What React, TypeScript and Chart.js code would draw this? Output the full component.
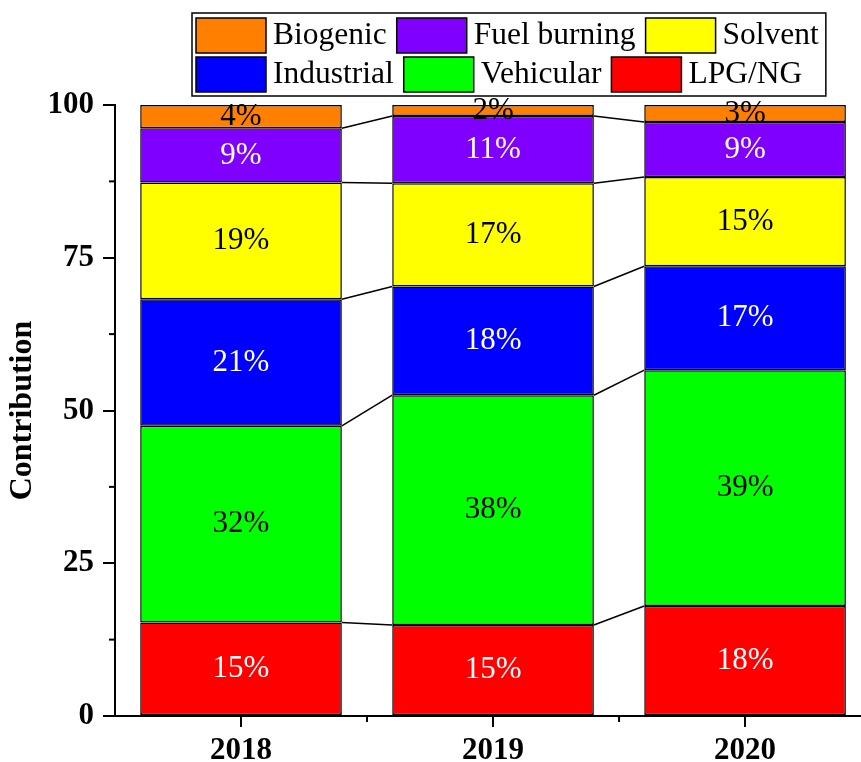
import React, { useEffect, useRef } from "react";
import { Chart, registerables } from "chart.js";

Chart.register(...registerables);

// ---------- data ----------
const years = ["2018", "2019", "2020"];
const sources = ["LPG/NG", "Vehicular", "Industrial", "Solvent", "Fuel burning", "Biogenic"];
const lpgNg = [15.3, 14.9, 18.0];
const vehicular = [32.2, 37.6, 38.6];
const industrial = [20.7, 17.8, 17.0];
const solvent = [19.1, 16.9, 14.6];
const fuelBurning = [8.9, 11.0, 9.0];
const biogenic = [3.8, 1.8, 2.8];
const yTicks = [0, 25, 50, 75, 100];
const yMinorTicks = [12.5, 37.5, 62.5, 87.5];
const xMinorTicks = [0.5, 1.5];

const seriesValues = [lpgNg, vehicular, industrial, solvent, fuelBurning, biogenic];
const fillColors = ["#FF0000", "#00FF00", "#0000FF", "#FFFF00", "#8000FF", "#FF8000"];
const labelColors = ["#FFFFFF", "#000000", "#FFFFFF", "#000000", "#FFFFFF", "#000000"];
const legendRows = [
  [5, 4, 3],
  [2, 1, 0],
];

const FONT = "'Liberation Serif', 'Times New Roman', serif";

const overlayPlugin = {
  id: "overlay",
  afterDatasetsDraw(chart: any) {
    const ctx = chart.ctx;
    const n = chart.data.datasets.length;
    ctx.save();
    // connecting lines between bar segment tops
    ctx.strokeStyle = "#000";
    ctx.lineWidth = 1.5;
    for (let d = 0; d < n - 1; d++) {
      const els = chart.getDatasetMeta(d).data;
      for (let i = 0; i < els.length - 1; i++) {
        const a = els[i];
        const b = els[i + 1];
        ctx.beginPath();
        ctx.moveTo(a.x + a.width / 2, a.y);
        ctx.lineTo(b.x - b.width / 2, b.y);
        ctx.stroke();
      }
    }
    // percentage labels
    ctx.font = `31px ${FONT}`;
    ctx.textAlign = "center";
    ctx.textBaseline = "middle";
    for (let d = 0; d < n; d++) {
      const els = chart.getDatasetMeta(d).data;
      els.forEach((el: any, i: number) => {
        const v = seriesValues[d][i];
        ctx.fillStyle = labelColors[d];
        ctx.fillText(`${Math.round(v)}%`, el.x, (el.y + el.base) / 2);
      });
    }
    ctx.restore();
  },
  afterDraw(chart: any) {
    const ctx = chart.ctx;
    const xs = chart.scales.x;
    const ys = chart.scales.y;
    const area = chart.chartArea;
    ctx.save();
    // minor ticks
    ctx.strokeStyle = "#000";
    ctx.lineWidth = 2;
    xMinorTicks.forEach((v) => {
      const px = xs.getPixelForValue(v);
      ctx.beginPath();
      ctx.moveTo(px, area.bottom);
      ctx.lineTo(px, area.bottom + 6);
      ctx.stroke();
    });
    yMinorTicks.forEach((v) => {
      const py = ys.getPixelForValue(v);
      ctx.beginPath();
      ctx.moveTo(area.left, py);
      ctx.lineTo(area.left - 6, py);
      ctx.stroke();
    });

    // legend
    ctx.font = `31.5px ${FONT}`;
    ctx.textBaseline = "middle";
    ctx.textAlign = "left";
    const boxW = 70;
    const boxH = 35;
    const startX = 196;
    const rowTops = [18, 57];
    const gapText = 7;
    const gapItem = 10;
    let maxRight = 0;
    legendRows.forEach((row, r) => {
      let x = startX;
      const top = rowTops[r];
      row.forEach((d, k) => {
        ctx.fillStyle = fillColors[d];
        ctx.fillRect(x, top, boxW, boxH);
        ctx.strokeStyle = "#000";
        ctx.lineWidth = 1.5;
        ctx.strokeRect(x, top, boxW, boxH);
        x += boxW + gapText;
        ctx.fillStyle = "#000";
        ctx.fillText(sources[d], x, top + boxH / 2);
        x += ctx.measureText(sources[d]).width;
        if (k < row.length - 1) x += gapItem;
      });
      maxRight = Math.max(maxRight, x);
    });
    ctx.strokeStyle = "#000";
    ctx.lineWidth = 1.5;
    ctx.strokeRect(192, 13, maxRight + 7 - 192, 83);
    ctx.restore();
  },
};

export default function App() {
  const canvasRef = useRef<HTMLCanvasElement | null>(null);

  useEffect(() => {
    if (!canvasRef.current) return;
    const datasets = seriesValues.map((vals, d) => ({
      label: sources[d],
      data: vals.map((v, i) => ({ x: i, y: v })),
      backgroundColor: fillColors[d],
      borderColor: "#000000",
      borderWidth: 1.5,
      borderSkipped: false,
      categoryPercentage: 1,
      barPercentage: 0.8,
    }));

    const chart = new Chart(canvasRef.current, {
      type: "bar",
      data: { datasets },
      plugins: [overlayPlugin],
      options: {
        animation: false,
        responsive: true,
        maintainAspectRatio: false,
        layout: { padding: { top: 105, left: 0, right: 0, bottom: 0 } },
        plugins: {
          legend: { display: false },
          tooltip: { enabled: false },
        },
        scales: {
          x: {
            type: "linear",
            stacked: true,
            offset: false,
            min: -0.5,
            max: 2.46,
            afterBuildTicks: (scale: any) => {
              scale.ticks = years.map((_, i) => ({ value: i }));
            },
            afterFit: (scale: any) => {
              scale.height = 46;
            },
            ticks: {
              callback: (v: any) => years[Math.round(Number(v))] ?? "",
              font: { family: FONT, size: 31, weight: "bold" },
              color: "#000",
              padding: 5,
              maxRotation: 0,
              autoSkip: false,
            },
            grid: {
              offset: false,
              drawOnChartArea: false,
              drawTicks: true,
              tickLength: 11,
              color: "#000",
              lineWidth: 2,
            },
            border: { display: true, color: "#000", width: 2 },
          },
          y: {
            stacked: true,
            min: 0,
            max: 100,
            afterBuildTicks: (scale: any) => {
              scale.ticks = yTicks.map((v) => ({ value: v }));
            },
            afterFit: (scale: any) => {
              scale.width = 115;
            },
            ticks: {
              font: { family: FONT, size: 31, weight: "bold" },
              color: "#000",
              padding: 9,
            },
            grid: {
              drawOnChartArea: false,
              drawTicks: true,
              tickLength: 12,
              color: "#000",
              lineWidth: 2,
            },
            border: { display: true, color: "#000", width: 2 },
            title: {
              display: true,
              text: "Contribution",
              font: { family: FONT, size: 32, weight: "bold" },
              color: "#000",
              padding: { top: 4, bottom: 0 },
            },
          },
        },
      },
    });
    return () => chart.destroy();
  }, []);

  return (
    <div style={{ position: "absolute", left: 0, top: 0, width: 861, height: 762 }}>
      <canvas ref={canvasRef} />
    </div>
  );
}
